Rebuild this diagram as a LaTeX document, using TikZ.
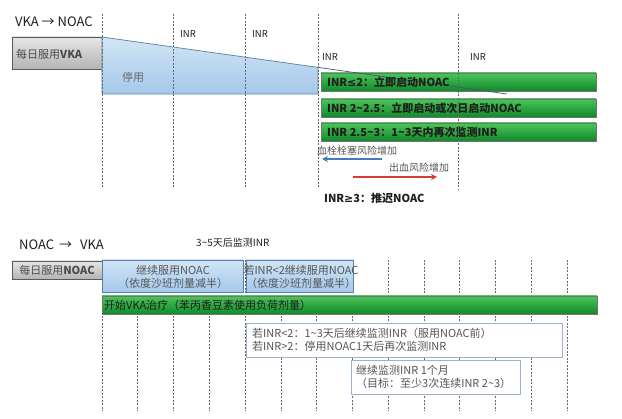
\documentclass[tikz,border=0pt]{standalone}
\usepackage{fontspec}
\setmainfont{Noto Sans CJK SC}
\newfontfamily\symfont{DejaVu Sans}
\usetikzlibrary{arrows.meta}
\definecolor{grn1}{HTML}{4CC55A}
\definecolor{grn2}{HTML}{10892A}
\definecolor{blu1}{HTML}{D2E5F6}
\definecolor{blu2}{HTML}{A4C8EA}
\definecolor{bluedge}{HTML}{5A7FA8}
\definecolor{gry1}{HTML}{E6E6E6}
\definecolor{gry2}{HTML}{B4B4B4}
\definecolor{txtdark}{HTML}{1E1E1E}
\definecolor{txtgray}{HTML}{555555}
\definecolor{arrblue}{HTML}{3F7CC4}
\definecolor{arrred}{HTML}{D83A3A}
\definecolor{wbedge}{HTML}{9DB3CC}
\tikzset{
  vdash/.style={draw=black!60, line width=0.6pt, dash pattern=on 2pt off 1.5pt},
  graybox/.style={draw=black!65, line width=0.7pt, top color=gry1, bottom color=gry2},
  bluebox/.style={draw=bluedge, line width=0.7pt, top color=blu1, bottom color=blu2},
  greenbar/.style={draw=black!55, line width=0.6pt, top color=grn1, bottom color=grn2},
  whitebox/.style={draw=wbedge, line width=0.7pt, fill=white},
  ttl/.style={anchor=west, inner sep=0pt, font=\fontsize{13}{15}\selectfont, text=txtdark},
  inr/.style={anchor=west, inner sep=0pt, font=\fontsize{9.5}{11}\selectfont, text=txtdark},
  bartxt/.style={anchor=west, inner sep=0pt, font=\bfseries\fontsize{11}{13}\selectfont, text=txtdark},
  boxtxt/.style={inner sep=0pt, font=\fontsize{11}{13}\selectfont, text=txtgray, align=center},
  risk/.style={anchor=west, inner sep=0pt, font=\fontsize{10}{12}\selectfont, text=txtgray},
}
\begin{document}
\begin{tikzpicture}[x=1pt,y=-1pt]
\useasboundingbox (0,0) rectangle (622,419);
\fill[white] (0,0) rectangle (622,419);

% ---------------- top section ----------------
\node[ttl] (t1) at (15,22) {VKA → NOAC};
\draw[graybox] (12,37) rectangle (102,69);
\node[boxtxt, anchor=west, text=black!70] (g1) at (16,54) {每日服用\textbf{VKA}};

\coordinate (b1) at (102,37);
\coordinate (b2) at (318,67.4);
\coordinate (b3) at (318,94);
\coordinate (b4) at (102,94);
\coordinate (tipend) at (507,94);
\draw[bluebox] (b1) -- (b2) -- (b3) -- (b4) -- cycle;
\node[boxtxt, text=black!60] (stop) at (133,77) {停用};

\draw[greenbar] (321,73) rectangle (596,91);
\draw[greenbar] (321,99) rectangle (596,117);
\draw[greenbar] (321,123) rectangle (596,141);
\draw[bluedge!70!black, line width=0.7pt] (b2) -- (tipend);
\node[bartxt] (r1) at (327,82) {INR{\symfont\bfseries ≤}2：立即启动NOAC};
\node[bartxt] (r2) at (327,108) {INR 2\textasciitilde 2.5：立即启动或次日启动NOAC};
\node[bartxt] (r3) at (327,132) {INR 2.5\textasciitilde 3：1\textasciitilde 3天内再次监测INR};

\foreach \x/\yb in {102/188,173/188,245/188,318/188,458/190}
  \draw[vdash] (\x,14) -- (\x,\yb);

\node[inr] (i1) at (180,34) {INR};
\node[inr] (i2) at (252,34) {INR};
\node[inr] (i3) at (322,57) {INR};
\node[inr] (i4) at (470,57) {INR};

\node[risk] (rk1) at (317,151) {血栓栓塞风险增加};
\coordinate (ab1) at (382,159);
\coordinate (ab2) at (322,159);
\draw[arrblue, line width=1.8pt, -{Stealth[length=6pt,width=6pt]}] (ab1) -- (ab2);
\node[risk] (rk2) at (389,168) {出血风险增加};
\coordinate (ar1) at (353,177);
\coordinate (ar2) at (437,177);
\draw[arrred, line width=1.8pt, -{Stealth[length=6pt,width=6pt]}] (ar1) -- (ar2);
\node[bartxt] (r4) at (324,198) {INR{\symfont\bfseries ≥}3：推迟NOAC};

% ---------------- bottom section ----------------
\node[ttl] (t2) at (19,245) {NOAC\, → \, VKA};
\node[inr, font=\fontsize{10}{12}\selectfont] (m1) at (196,243) {3\textasciitilde 5天后监测INR};

\foreach \k in {0,...,13}
  \draw[vdash] ({102+35.77*\k},260) -- ({102+35.77*\k},411);

\draw[graybox] (12,261) rectangle (102,279);
\node[boxtxt, text=black!70] (g2) at (57,270) {每日服用\textbf{NOAC}};

\draw[bluebox] (102,260) rectangle (243,292);
\node[boxtxt] (c1) at (173,277) {继续服用NOAC\\（依度沙班剂量减半）};
\draw[bluebox] (246,260) rectangle (353,292);
\node[boxtxt] (c2) at (301,277) {若INR<2继续服用NOAC\\（依度沙班剂量减半）};

\draw[greenbar] (102,296) rectangle (597,314);
\node[boxtxt, anchor=west, text=txtdark] (s1) at (104,305) {开始VKA治疗（苯丙香豆素使用负荷剂量）};

\draw[whitebox] (246,323) rectangle (562,357);
\node[boxtxt, anchor=west, align=left] (w1) at (252,340) {若INR<2：1\textasciitilde 3天后继续监测INR（服用NOAC前）\\若INR>2：停用NOAC1天后再次监测INR};
\draw[whitebox] (351,360) rectangle (520,394);
\node[boxtxt, anchor=west, align=left] (w2) at (356,377) {继续监测INR 1个月\\（目标：至少3次连续INR 2\textasciitilde 3）};
\end{tikzpicture}
\end{document}
